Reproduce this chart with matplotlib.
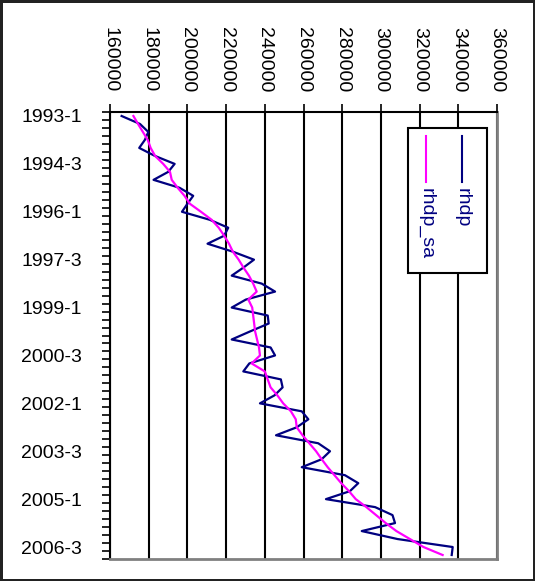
import numpy as np
import matplotlib.pyplot as plt
from matplotlib.patches import Rectangle

plt.rcParams['font.family'] = ['Liberation Sans', 'DejaVu Sans']

# quarterly categories 1993-1 .. 2006-4
quarters = ['%d-%d' % (y, q) for y in range(1993, 2007) for q in range(1, 5)]

rhdp = [166000, 175500, 179800, 178000, 175100, 183200, 193400, 190100,
        182500, 196000, 203000, 200000, 197200, 211500, 221100, 219000,
        210400, 223500, 234400, 228900, 222900, 238400, 245300, 230200,
        222900, 241500, 242000, 232300, 222900, 243000, 245300, 232000,
        228900, 248300, 249200, 245000, 237500, 259100, 262500, 256500,
        245800, 267600, 273700, 269400, 259100, 281400, 288300, 284000,
        271600, 297000, 306000, 307300, 290100, 308600, 337100, 336600]

rhdp_sa = [172100, 174500, 177000, 179500, 181000, 183300, 187500, 191000,
           191900, 195000, 198500, 201300, 207000, 212500, 216200, 219000,
           221500, 223500, 226500, 229000, 231800, 234000, 235800, 231500,
           233500, 234000, 234500, 235000, 236000, 237000, 237500, 233200,
           240000, 241500, 243000, 246500, 249500, 253500, 256000, 256500,
           259500, 263000, 266500, 269400, 272500, 276000, 279500, 283500,
           287000, 292500, 297500, 302500, 308000, 315000, 322000, 331900]

x_ticks = list(range(160000, 360001, 20000))
series_names = ['rhdp', 'rhdp_sa']
series_colors = ['#000080', '#FF00FF']

W, H = 535, 581
fig = plt.figure(figsize=(W / 100, H / 100), dpi=100, linewidth=2.5, edgecolor='#222222')
ax = fig.add_axes([110 / W, 1 - 559 / H, 387 / W, 447 / H])

pos = np.arange(len(quarters))
ax.plot(rhdp, pos, color=series_colors[0], lw=1.6, zorder=3)
ax.plot(rhdp_sa, pos, color=series_colors[1], lw=1.6, zorder=4)

ax.set_xlim(160000, 360000)
ax.set_ylim(len(quarters) - 0.5, -0.5)

# value axis on top, labels rotated
ax.set_xticks(x_ticks)
ax.set_xticklabels([str(v) for v in x_ticks], rotation=270, fontsize=14)
ax.xaxis.tick_top()
ax.tick_params(axis='x', top=True, bottom=False, length=6, width=1.2,
               direction='out', pad=8)
for lbl in ax.get_xticklabels():
    lbl.set_va('bottom')
    lbl.set_ha('center')
ax.xaxis.grid(True, color='black', lw=1.5)

# category axis: labels every 6 quarters, ticks between categories
ax.set_yticks(pos[::6])
ax.set_yticklabels(quarters[::6], fontsize=14)
ax.set_yticks(np.arange(-0.5, len(quarters)), minor=True)
ax.tick_params(axis='y', which='major', length=0, pad=20)
ax.tick_params(axis='y', which='minor', length=6, width=1.2, direction='out')

for side in ['left', 'top']:
    ax.spines[side].set_color('black')
    ax.spines[side].set_linewidth(1.5)
for side in ['right', 'bottom']:
    ax.spines[side].set_color('#808080')
    ax.spines[side].set_linewidth(2)

# legend drawn rotated, like the axis labels (pixel coords from top-left)
tr = fig.dpi_scale_trans
ax.add_patch(Rectangle((408 / 100, (H - 273) / 100), 79 / 100, 145 / 100,
                       transform=tr, facecolor='white', edgecolor='black',
                       lw=1.5, zorder=5))
for name, color, xc in zip(series_names, series_colors, [462, 426]):
    ax.plot([xc / 100, xc / 100], [(H - 136) / 100, (H - 182) / 100],
            transform=tr, color=color, lw=1.5, zorder=6)
    ax.text(xc / 100, (H - 188) / 100, name, transform=tr, rotation=270,
            ha='center', va='top', fontsize=14, color='#000080', zorder=6)

fig.savefig('out.png', dpi=100)
